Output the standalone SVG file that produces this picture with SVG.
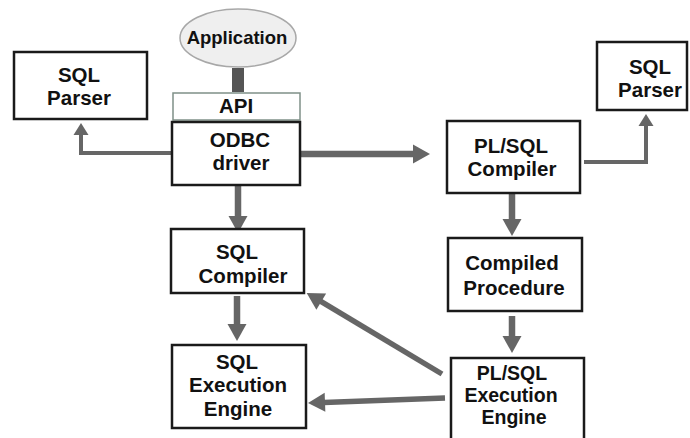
<svg xmlns="http://www.w3.org/2000/svg" width="690" height="438" viewBox="0 0 690 438">
<style>
.box{fill:#fff;stroke:#1a1a1a;stroke-width:2.5}
.api{fill:#fff;stroke:#7f9088;stroke-width:1.5}
.app{fill:#efefef;stroke:#a8a8a8;stroke-width:1.5}
text{font-family:"Liberation Sans",Arial,sans-serif;font-weight:bold;font-size:20.5px;text-anchor:middle;fill:#111}
.sm{font-size:18.5px}
.tight{font-size:19.5px}
.c{fill:none;stroke:#666;stroke-linejoin:miter}
.w6{stroke-width:6.5}
.w5{stroke-width:5.5}
.w4{stroke-width:4}
</style>
<defs>
<marker id="big" markerUnits="userSpaceOnUse" markerWidth="20" markerHeight="22" refX="1" refY="9.5" orient="auto" overflow="visible">
<path d="M0,0 L17,9.5 L0,19 z" fill="#666"/>
</marker>
<marker id="small" markerUnits="userSpaceOnUse" markerWidth="16" markerHeight="18" refX="1" refY="7.5" orient="auto" overflow="visible">
<path d="M0,0 L12,7.5 L0,15 z" fill="#666"/>
</marker>
</defs>
<rect width="690" height="438" fill="#fff"/>
<g id="connectors">
<rect x="232" y="68" width="12" height="24" fill="#555"/>
<path class="c w4" d="M172,153 H81 V134" marker-end="url(#small)"/>
<path class="c w6" d="M301,154 H414" marker-end="url(#big)"/>
<path class="c w6" d="M238,185 V217" marker-end="url(#big)"/>
<path class="c w4" d="M584,162 H646 V125" marker-end="url(#small)"/>
<path class="c w6" d="M512,193 V220" marker-end="url(#big)"/>
<path class="c w6" d="M512,316 V337" marker-end="url(#big)"/>
<path class="c w5" d="M442,374 L320.4,301.2" marker-end="url(#big)"/>
<path class="c w5" d="M445,398 L324,402.4" marker-end="url(#big)"/>
<path class="c w6" d="M237,296 V325" marker-end="url(#big)"/>
</g>
<g id="sql-parser-left">
<rect class="box" x="14" y="52" width="133" height="67"/>
<text x="79" y="82">SQL</text>
<text x="79" y="105">Parser</text>
</g>
<g id="application">
<ellipse class="app" cx="238" cy="38" rx="58" ry="29"/>
<text class="sm" x="237" y="44">Application</text>
</g>
<g id="api">
<rect class="api" x="173" y="93" width="127" height="27"/>
<text x="236" y="113">API</text>
</g>
<g id="odbc-driver">
<rect class="box" x="172" y="122" width="128" height="63"/>
<text x="240" y="147">ODBC</text>
<text x="241" y="170">driver</text>
</g>
<g id="plsql-compiler">
<rect class="box" x="447" y="121" width="133" height="72"/>
<text x="511" y="153">PL/SQL</text>
<text x="512" y="176">Compiler</text>
</g>
<g id="sql-parser-right">
<rect class="box" x="597" y="42" width="90" height="68"/>
<text x="650" y="74">SQL</text>
<text x="650" y="97">Parser</text>
</g>
<g id="sql-compiler">
<rect class="box" x="171" y="229" width="133" height="64"/>
<text x="237" y="259">SQL</text>
<text x="243" y="283">Compiler</text>
</g>
<g id="compiled-procedure">
<rect class="box" x="448" y="238" width="134" height="73"/>
<text x="512" y="270">Compiled</text>
<text x="514" y="295">Procedure</text>
</g>
<g id="sql-execution-engine">
<rect class="box" x="172" y="345" width="134" height="83"/>
<text x="237" y="369">SQL</text>
<text x="238" y="392">Execution</text>
<text x="238" y="416">Engine</text>
</g>
<g id="plsql-execution-engine">
<rect class="box" x="451" y="358" width="133" height="100"/>
<text class="tight" x="512" y="380">PL/SQL</text>
<text class="tight" x="511" y="402">Execution</text>
<text class="tight" x="514" y="424">Engine</text>
</g>
</svg>
